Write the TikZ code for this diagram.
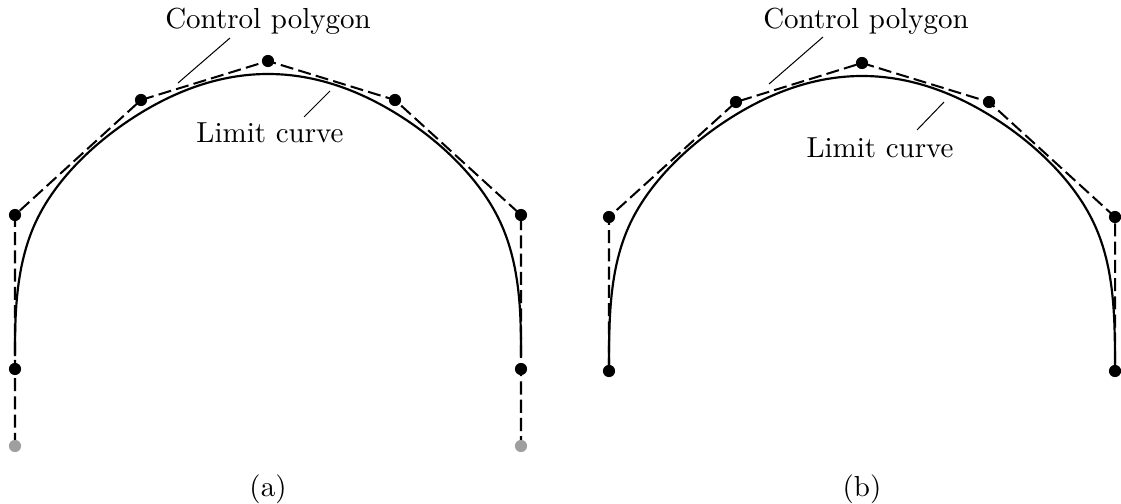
\documentclass[tikz,border=0pt]{standalone}
\usetikzlibrary{calc}

\tikzset{
  poly/.style={dash pattern=on 4.5pt off 1.8pt, line width=0.7pt},
  limit/.style={line width=0.75pt},
  leader/.style={line width=0.35pt},
  ctrl/.style={fill=black},
  ghost/.style={fill=gray!75},
  lbl/.style={anchor=base},
}

\begin{document}
\begin{tikzpicture}[x=0.345pt, y=-0.345pt]
  \useasboundingbox (0,0) rectangle (1121,504);

  % control points, panel (a)
  \foreach \n/\x/\y in {0/15/446, 1/15/369, 2/15/215, 3/141/100, 4/268/61,
                        5/395/100, 6/521/215, 7/521/369, 8/521/446}
    \coordinate (a\n) at (\x,\y);
  % control points, panel (b), ends mirrored
  \foreach \n/\x/\y in {1/609/371, 2/609/217, 3/736/102, 4/862/63,
                        5/989/102, 6/1115/217, 7/1115/371}
    \coordinate (b\n) at (\x,\y);
  \coordinate (b0) at ($(b1)!-1!(b2)$);
  \coordinate (b8) at ($(b7)!-1!(b6)$);

  % polygons
  \draw[poly] (a0) \foreach \n in {1,...,8} { -- (a\n) };
  \draw[poly] (b1) \foreach \n in {2,...,7} { -- (b\n) };

  % limit curves (cubic B-spline as Bezier pieces)
  \foreach \p in {a,b} {
    \draw[limit] ($1/6*(\p0)+2/3*(\p1)+1/6*(\p2)$)
      \foreach \j/\k/\l in {1/2/3, 2/3/4, 3/4/5, 4/5/6, 5/6/7, 6/7/8} {
        .. controls ($2/3*(\p\j)+1/3*(\p\k)$) and ($1/3*(\p\j)+2/3*(\p\k)$)
        .. ($1/6*(\p\j)+2/3*(\p\k)+1/6*(\p\l)$)
      };
  }

  % points
  \foreach \n in {1,...,7} {
    \fill[ctrl] (a\n) circle (2.1pt);
    \fill[ctrl] (b\n) circle (2.1pt);
  }
  \fill[ghost] (a0) circle (2.1pt);
  \fill[ghost] (a8) circle (2.1pt);

  % labels
  \node[lbl] (cpa) at (268,29) {Control polygon};
  \node[lbl] (lca) at (270,143) {Limit curve};
  \node[lbl] (cpb) at (866,29) {Control polygon};
  \node[lbl] (lcb) at (880,157) {Limit curve};
  \coordinate (cpa1) at (230,38);  \coordinate (cpa2) at (178,83);
  \coordinate (lca1) at (330,91);  \coordinate (lca2) at (304,117);
  \coordinate (cpb1) at (823,37);  \coordinate (cpb2) at (769,84);
  \coordinate (lcb1) at (944,102); \coordinate (lcb2) at (917,130);
  \draw[leader] (cpa1) -- (cpa2);
  \draw[leader] (lca1) -- (lca2);
  \draw[leader] (cpb1) -- (cpb2);
  \draw[leader] (lcb1) -- (lcb2);

  \node (capa) at (268,489) {(a)};
  \node (capb) at (862,489) {(b)};
\end{tikzpicture}
\end{document}
